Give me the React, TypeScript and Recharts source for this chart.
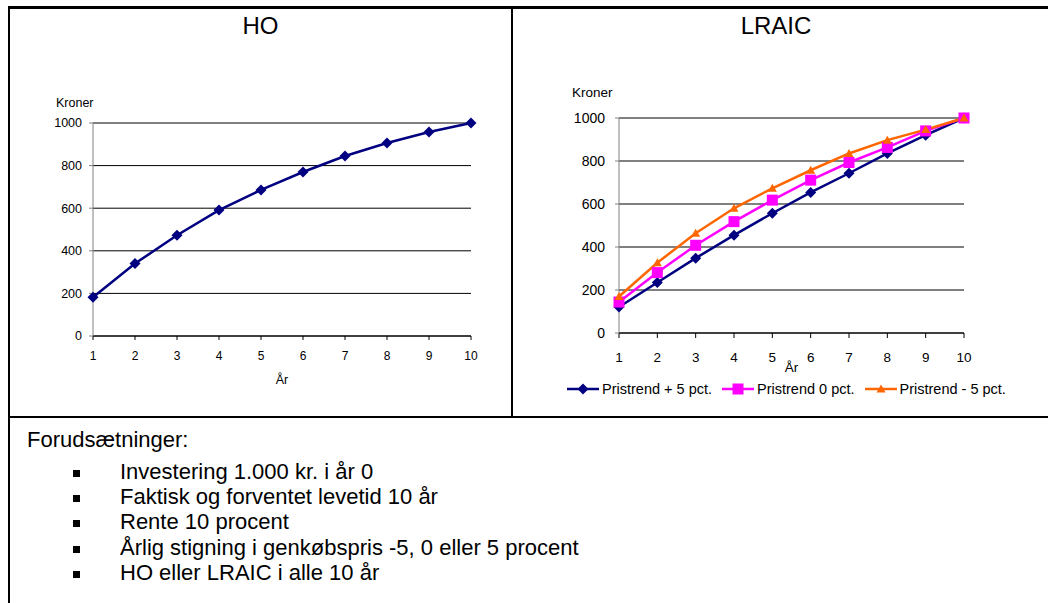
import React from 'react';
import { LineChart, Line, XAxis, YAxis, CartesianGrid, Legend } from 'recharts';

const years = [1, 2, 3, 4, 5, 6, 7, 8, 9, 10];
const yTicks = [0, 200, 400, 600, 800, 1000];
const hoValues = [182, 340, 473, 591, 686, 770, 845, 906, 958, 1000];
const plus5Values = [121, 235, 348, 455, 557, 654, 743, 835, 920, 1000];
const zeroValues = [144, 281, 408, 518, 618, 711, 793, 863, 940, 1000];
const minus5Values = [170, 327, 464, 580, 673, 757, 835, 897, 946, 1000];
const seriesNames = ['Pristrend + 5 pct.', 'Pristrend 0 pct.', 'Pristrend - 5 pct.'];
const panelTitles = ['HO', 'LRAIC'];
const yAxisTitle = 'Kroner';
const xAxisTitle = 'År';
const assumptionsTitle = 'Forudsætninger:';
const assumptions = [
  'Investering 1.000 kr. i år 0',
  'Faktisk og forventet levetid 10 år',
  'Rente 10 procent',
  'Årlig stigning i genkøbspris -5, 0 eller 5 procent',
  'HO eller LRAIC i alle 10 år',
];

const FONT = '"Liberation Sans", Arial, Helvetica, sans-serif';

const hoData = years.map((y, i) => ({ year: y, ho: hoValues[i] }));
const lraicData = years.map((y, i) => ({
  year: y,
  s1: plus5Values[i],
  s2: zeroValues[i],
  s3: minus5Values[i],
}));

const lraicSeries = [
  { key: 's1', name: seriesNames[0], color: '#000080', shape: 'diamond' },
  { key: 's2', name: seriesNames[1], color: '#FF00FF', shape: 'square' },
  { key: 's3', name: seriesNames[2], color: '#FF6600', shape: 'triangle' },
];

function MarkerShape({ shape, cx, cy, color }: any) {
  if (cx == null || cy == null || isNaN(cx) || isNaN(cy)) return <g />;
  if (shape === 'diamond') {
    const r = 5.5;
    return <path d={`M${cx},${cy - r}L${cx + r},${cy}L${cx},${cy + r}L${cx - r},${cy}Z`} fill={color} />;
  }
  if (shape === 'square') {
    const r = 5.5;
    return <rect x={cx - r} y={cy - r} width={2 * r} height={2 * r} fill={color} />;
  }
  const w = 4.5;
  return <path d={`M${cx},${cy - 4.5}L${cx + w},${cy + 3.5}L${cx - w},${cy + 3.5}Z`} fill={color} />;
}

function markerRenderer(shape: string, color: string) {
  return (props: any) => (
    <MarkerShape key={`m-${shape}-${props.index}`} shape={shape} cx={props.cx} cy={props.cy} color={color} />
  );
}

function LraicLegend() {
  return (
    <div style={{ display: 'flex', alignItems: 'center', fontFamily: FONT, fontSize: 14.5, whiteSpace: 'nowrap', color: '#000' }}>
      {lraicSeries.map((s, i) => (
        <div key={`leg-${i}`} style={{ display: 'flex', alignItems: 'center', marginRight: 10 }}>
          <svg width={32} height={14} style={{ display: 'block' }}>
            <line x1={0} y1={7} x2={32} y2={7} stroke={s.color} strokeWidth={2.5} />
            <MarkerShape shape={s.shape} cx={16} cy={7} color={s.color} />
          </svg>
          <span style={{ marginLeft: 3 }}>{s.name}</span>
        </div>
      ))}
    </div>
  );
}

const abs = (left: number, top: number, extra: any = {}) => ({ position: 'absolute' as const, left, top, ...extra });

export default function App() {
  return (
    <div style={{ position: 'absolute', left: 0, top: 0, width: 1048, height: 603, overflow: 'hidden', background: '#fff', fontFamily: FONT, color: '#000' }}>
      <div style={abs(8, 6, { width: 1040, height: 3, background: '#000' })} />
      <div style={abs(8, 6, { width: 2, height: 597, background: '#000' })} />
      <div style={abs(511, 6, { width: 2, height: 411, background: '#000' })} />
      <div style={abs(8, 416, { width: 1040, height: 2, background: '#000' })} />

      <div style={abs(10, 14, { width: 501, textAlign: 'center', fontSize: 24, lineHeight: '24px' })}>{panelTitles[0]}</div>
      <div style={abs(513, 14, { width: 526, textAlign: 'center', fontSize: 24, lineHeight: '24px' })}>{panelTitles[1]}</div>

      <div style={abs(56, 96, { fontSize: 12.5, lineHeight: '14px' })}>{yAxisTitle}</div>
      <div style={abs(572, 85, { fontSize: 13.5, lineHeight: '15px' })}>{yAxisTitle}</div>

      <div style={abs(40, 90)}>
        <LineChart width={446} height={296} data={hoData} margin={{ top: 33, right: 15, bottom: 0, left: 0 }}>
          <CartesianGrid horizontal vertical={false} stroke="#000" strokeWidth={1} />
          <XAxis
            dataKey="year"
            type="number"
            domain={[1, 10]}
            ticks={years}
            interval={0}
            height={50}
            tickSize={4}
            tickMargin={11}
            axisLine={{ stroke: '#000', strokeWidth: 1 }}
            tickLine={{ stroke: '#000' }}
            tick={{ fill: '#000', fontSize: 12, fontFamily: FONT }}
            label={{ value: xAxisTitle, position: 'insideBottom', offset: 2, fill: '#000', fontSize: 12.5, fontFamily: FONT }}
          />
          <YAxis
            type="number"
            domain={[0, 1000]}
            ticks={yTicks}
            width={53}
            tickSize={4}
            tickMargin={7}
            axisLine={{ stroke: '#808080', strokeWidth: 1 }}
            tickLine={{ stroke: '#808080' }}
            tick={{ fill: '#000', fontSize: 12.5, fontFamily: FONT }}
          />
          <Line
            type="linear"
            dataKey="ho"
            stroke="#000080"
            strokeWidth={2.5}
            isAnimationActive={false}
            dot={markerRenderer('diamond', '#000080')}
            activeDot={false}
          />
        </LineChart>
      </div>

      <div style={abs(550, 85)}>
        <LineChart width={434} height={325} data={lraicData} margin={{ top: 33, right: 20, bottom: 5, left: 0 }}>
          <CartesianGrid horizontal vertical={false} stroke="#000" strokeWidth={1} />
          <XAxis
            dataKey="year"
            type="number"
            domain={[1, 10]}
            ticks={years}
            interval={0}
            height={48}
            tickSize={5}
            tickMargin={14}
            axisLine={{ stroke: '#000', strokeWidth: 1 }}
            tickLine={{ stroke: '#000' }}
            tick={{ fill: '#000', fontSize: 13.5, fontFamily: FONT }}
            label={{ value: xAxisTitle, position: 'insideBottom', offset: 9, fill: '#000', fontSize: 13.5, fontFamily: FONT }}
          />
          <YAxis
            type="number"
            domain={[0, 1000]}
            ticks={yTicks}
            width={69}
            tickSize={4}
            tickMargin={10}
            axisLine={{ stroke: '#808080', strokeWidth: 1 }}
            tickLine={{ stroke: '#808080' }}
            tick={{ fill: '#000', fontSize: 14, fontFamily: FONT }}
          />
          {lraicSeries.map((s, i) => (
            <Line
              key={s.key}
              type="linear"
              dataKey={s.key}
              name={s.name}
              stroke={s.color}
              strokeWidth={2.5}
              isAnimationActive={false}
              dot={markerRenderer(s.shape, s.color)}
              activeDot={false}
              {...({ zIndex: 401 + i } as any)}
            />
          ))}
          <Legend verticalAlign="bottom" height={24} content={LraicLegend} wrapperStyle={{ left: 17, width: 480 }} />
        </LineChart>
      </div>

      <div style={abs(27, 427, { fontSize: 22, lineHeight: '26px', whiteSpace: 'nowrap' })}>{assumptionsTitle}</div>
      {assumptions.map((t, i) => (
        <React.Fragment key={`as-${i}`}>
          <div style={abs(73, 470 + i * 25.2, { width: 7, height: 7, background: '#000' })} />
          <div style={abs(120, 459 + i * 25.2, { fontSize: 22, lineHeight: '26px', whiteSpace: 'nowrap' })}>{t}</div>
        </React.Fragment>
      ))}
    </div>
  );
}
